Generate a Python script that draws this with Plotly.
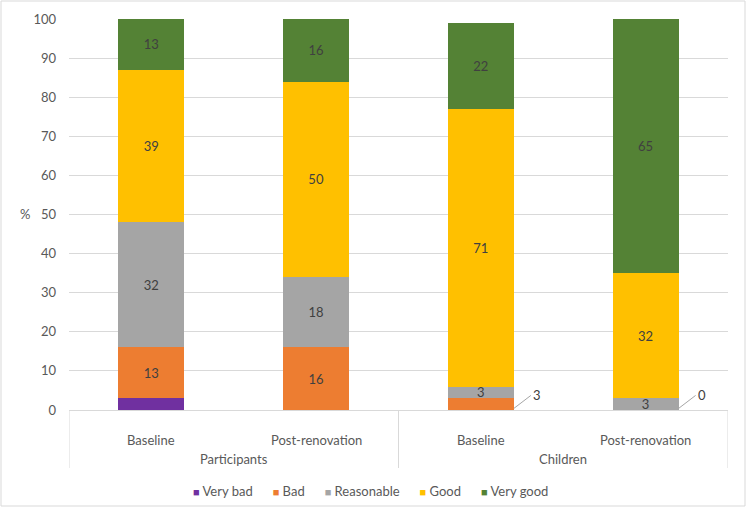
import plotly.graph_objects as go

groups = ["Participants", "Participants", "Children", "Children"]
phases = ["Baseline", "Post-renovation", "Baseline", "Post-renovation"]
group_names = ["Participants", "Children"]

ratings = ["Very bad", "Bad", "Reasonable", "Good", "Very good"]
colors = ["#7030a0", "#ed7d31", "#a5a5a5", "#ffc000", "#548235"]

very_bad = [3, 0, 0, 0]
bad = [13, 16, 3, 0]
reasonable = [32, 18, 3, 3]
good = [39, 50, 71, 32]
very_good = [13, 16, 22, 65]

series = [very_bad, bad, reasonable, good, very_good]

# labels hidden inside the bar (very bad has none, small "bad" gets a leader label)
hidden = {0: [0, 1, 2, 3], 1: [2, 3]}

FONT = "Lato"
GREY = "#595959"
DARK = "#404040"
LINE = "#d9d9d9"

# plot area in pixels: 69..728 x 19..410
PH = 391.0

fig = go.Figure()
for i, (name, vals, col) in enumerate(zip(ratings, series, colors)):
    txt = ["" if j in hidden.get(i, []) else str(v) for j, v in enumerate(vals)]
    fig.add_trace(go.Bar(
        x=[groups, phases], y=vals, name=name,
        marker=dict(color=col, line=dict(width=0)),
        text=txt, textposition="inside", insidetextanchor="middle",
        textangle=0, constraintext="none",
        textfont=dict(family=FONT, size=13, color=DARK),
    ))

# leader-line labels for the small "Bad" segments of the children bars
for j in hidden[1]:
    fig.add_annotation(
        x=j + 0.2, y=0.4, xref="x", yref="y",
        text=str(bad[j]), showarrow=True, arrowhead=0, arrowwidth=1,
        arrowcolor="#a6a6a6", ax=17, ay=-13, xanchor="left", yanchor="middle",
        font=dict(family=FONT, size=13, color=DARK),
    )

# category axis labels (two levels)
for j, p in enumerate(phases):
    fig.add_annotation(x=j, y=-30 / PH, xref="x", yref="paper", text=p,
                       showarrow=False, yanchor="middle",
                       font=dict(family=FONT, size=13, color=GREY))
for k, g in enumerate(group_names):
    fig.add_annotation(x=2 * k + 0.5, y=-49 / PH, xref="x", yref="paper", text=g,
                       showarrow=False, yanchor="middle",
                       font=dict(family=FONT, size=13, color=GREY))
for xb in [-0.5, 1.5, 3.5]:
    fig.add_shape(type="line", xref="x", yref="paper", x0=xb, x1=xb,
                  y0=0, y1=-58 / PH, line=dict(color=LINE, width=1))

fig.add_annotation(x=-0.077, y=0.501, xref="paper", yref="paper", text="%",
                   showarrow=False, font=dict(family=FONT, size=13, color=GREY))

# legend drawn as one line of text with coloured squares
gap = "<span style='font-size:13px'>" + "\u00a0" * 6 + "</span>"
legend_txt = gap.join(
    f"<span style='color:{c};font-size:11px'>■</span>\u00a0{r}" for r, c in zip(ratings, colors))
fig.add_annotation(x=(370.5 - 69) / 659, y=-81 / PH, xref="paper", yref="paper",
                   text=legend_txt, showarrow=False, yanchor="middle",
                   font=dict(family=FONT, size=13, color=GREY))

# outer chart border
fig.add_shape(type="rect", xref="paper", yref="paper",
              x0=-68 / 659, x1=(745 - 69) / 659, y0=-96 / PH, y1=409 / PH,
              line=dict(color=LINE, width=1))

fig.update_layout(
    width=747, height=507,
    margin=dict(l=69, r=19, t=19, b=97),
    barmode="stack", bargap=0.6,
    plot_bgcolor="white", paper_bgcolor="white",
    font=dict(family=FONT, size=13, color=GREY),
    showlegend=False,
)
fig.update_yaxes(range=[0, 100], dtick=10, showgrid=True, gridcolor=LINE,
                 zeroline=False, showline=False, ticks="", automargin=False,
                 ticklabelstandoff=12,
                 tickfont=dict(family=FONT, size=13, color=GREY))
fig.update_xaxes(showline=True, linecolor=LINE, ticks="", showticklabels=False,
                 showdividers=False, automargin=False, range=[-0.5, 3.5])

fig.write_html("out.html", config={"displayModeBar": False},
               post_script="document.body.style.margin='0';")
